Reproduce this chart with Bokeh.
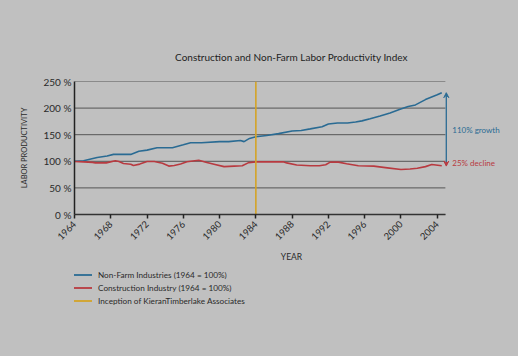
from bokeh.plotting import figure
from bokeh.layouts import column
from bokeh.models import Legend, LegendItem, Arrow, VeeHead, Label, PrintfTickFormatter, FixedTicker, Range1d
from bokeh.embed import file_html
from bokeh.resources import INLINE

nonfarm_years = [1964, 1965, 1966.5, 1967.6, 1968.3, 1970.2, 1971.1, 1972, 1973.1, 1974.8, 1976,
                 1976.8, 1978, 1980, 1981, 1982.3, 1982.7, 1983.3, 1984, 1985.2, 1986.5, 1988,
                 1989, 1990, 1991.3, 1992, 1993, 1994.1, 1995, 1995.7, 1996.6, 1997.7, 1998.8,
                 1999.9, 2000.8, 2001.6, 2002.7, 2004, 2004.5]
nonfarm_vals = [100, 101, 107, 110, 113, 113, 119, 121, 125.5, 125.5, 131,
                135, 135, 137, 137, 139, 137, 143, 146, 148.5, 152, 157,
                158, 161, 165, 170, 172, 172, 174, 176, 180, 185, 191,
                198, 203, 206, 216, 225, 229]

constr_years = [1964, 1965, 1966, 1966.3, 1967.5, 1968.5, 1968.9, 1969.4, 1970.2, 1970.5, 1971.2,
                1972, 1972.8, 1973.7, 1974.4, 1975, 1975.7, 1976.4, 1977.7, 1978.6, 1979.5,
                1980.5, 1981.6, 1982.5, 1983.2, 1984, 1985, 1986, 1987, 1987.4, 1988.5, 1990,
                1991, 1991.7, 1992.2, 1993.1, 1994, 1995.3, 1997, 1998.5, 2000, 2001, 2001.8,
                2002.7, 2003.4, 2004.5]
constr_vals = [99.5, 99, 98, 97, 97, 101, 99.5, 96, 94.5, 92, 94.7,
               99.5, 99.5, 96.4, 91, 92, 95, 99, 102, 97.6, 94,
               90, 91, 91.5, 97.5, 99, 99, 99, 99, 97, 93, 91.5,
               91.5, 93.5, 98.5, 98.5, 95.5, 91.5, 91, 87.7, 84.5, 85.5, 87,
               90, 94, 91.5]

inception_year = 1984
x_ticks = [1964, 1968, 1972, 1976, 1980, 1984, 1988, 1992, 1996, 2000, 2004]
y_ticks = [0, 50, 100, 150, 200, 250]
x_start, x_end = 1964, 2004.9
growth_text = "110% growth"
decline_text = "25% decline"
legend_labels = ["Non-Farm Industries (1964 = 100%)",
                 "Construction Industry (1964 = 100%)",
                 "Inception of KieranTimberlake Associates"]

BG = "#c0c0c0"
BLUE = "#2a6b93"
RED = "#b83a40"
YELLOW = "#d3a327"
TXT = "#2a2a2a"
FONT = "Lato"

p = figure(width=518, height=265, output_backend="svg", toolbar_location=None,
           x_range=Range1d(1964, 2011.86), y_range=Range1d(0, 250),
           min_border_left=74, min_border_right=10, min_border_top=81, min_border_bottom=50,
           styles={"background-color": BG})
p.background_fill_color = BG
p.border_fill_color = BG
p.outline_line_color = None

p.title.text = "Construction and Non-Farm Labor Productivity Index"
p.title.align = "center"
p.title.text_font = FONT
p.title.text_font_size = "10px"
p.title.text_font_style = "normal"
p.title.text_color = "#1e1e1e"
p.title.standoff = 38

# grid (drawn only across the data span)
p.xgrid.visible = False
p.ygrid.visible = False
p.segment(x0=[x_start] * len(y_ticks), x1=[x_end] * len(y_ticks), y0=y_ticks, y1=y_ticks,
          line_color="#555555", line_width=1)

# axes
p.yaxis.ticker = FixedTicker(ticks=y_ticks)
p.yaxis.formatter = PrintfTickFormatter(format="%d %%")
p.yaxis.major_tick_line_color = None
p.yaxis.major_tick_out = 0
p.yaxis.major_tick_in = 0
p.yaxis.minor_tick_line_color = None
p.yaxis.axis_line_color = "#222222"
p.yaxis.axis_line_width = 1.5
p.yaxis.major_label_text_font = FONT
p.yaxis.major_label_text_font_size = "10px"
p.yaxis.major_label_text_color = TXT
p.yaxis.major_label_standoff = 3
p.yaxis.axis_label = "LABOR PRODUCTIVITY"
p.yaxis.axis_label_text_font = FONT
p.yaxis.axis_label_text_font_size = "7.5px"
p.yaxis.axis_label_text_font_style = "normal"
p.yaxis.axis_label_text_color = TXT
p.yaxis.axis_label_standoff = 12

p.xaxis.ticker = FixedTicker(ticks=x_ticks)
p.xaxis.bounds = (x_start, x_end)
p.xaxis.major_label_orientation = 0.785
p.xaxis.minor_tick_line_color = None
p.xaxis.major_tick_in = 0
p.xaxis.major_tick_out = 4
p.xaxis.major_tick_line_color = "#222222"
p.xaxis.major_tick_line_width = 1.5
p.xaxis.axis_line_color = "#333333"
p.xaxis.axis_line_width = 1.5
p.xaxis.major_label_text_font = FONT
p.xaxis.major_label_text_font_size = "9.5px"
p.xaxis.major_label_text_color = TXT
p.xaxis.major_label_standoff = 4
p.xaxis.axis_label = "YEAR"
p.xaxis.axis_label_text_font = FONT
p.xaxis.axis_label_text_font_size = "8.5px"
p.xaxis.axis_label_text_font_style = "normal"
p.xaxis.axis_label_text_color = TXT
p.xaxis.axis_label_standoff = 6

p.line(nonfarm_years, nonfarm_vals, line_color=BLUE, line_width=1.6)
p.line(constr_years, constr_vals, line_color=RED, line_width=1.6)
p.line([inception_year, inception_year], [0, 250], line_color=YELLOW, line_width=1.6)

# arrows
p.add_layout(Arrow(x_start=2005.0, y_start=97, x_end=2005.0, y_end=229,
                   line_color=BLUE, line_width=1.3,
                   end=VeeHead(size=5, fill_color=BLUE, line_color=BLUE)))
p.add_layout(Arrow(x_start=2005.0, y_start=99, x_end=2005.0, y_end=91,
                   line_color=RED, line_width=1.3,
                   end=VeeHead(size=5, fill_color=RED, line_color=RED)))

p.add_layout(Label(x=2005.0, y=158, x_offset=6, text=growth_text, text_color=BLUE,
                   text_font=FONT, text_font_size="8px", text_baseline="middle"))
p.add_layout(Label(x=2005.0, y=97, x_offset=6, text=decline_text, text_color=RED,
                   text_font=FONT, text_font_size="8px", text_baseline="middle"))

# legend panel (its lines hold the same series, kept outside the visible range)
q = figure(width=518, height=91, output_backend="svg", toolbar_location=None,
           x_range=Range1d(0, 1), y_range=Range1d(-2, -1),
           x_axis_location=None, y_axis_location=None, min_border=0,
           styles={"background-color": BG})
q.background_fill_color = BG
q.border_fill_color = BG
q.outline_line_color = None
q.xgrid.visible = False
q.ygrid.visible = False
r1 = q.line(nonfarm_years, nonfarm_vals, line_color=BLUE, line_width=1.8)
r2 = q.line(constr_years, constr_vals, line_color=RED, line_width=1.8)
r3 = q.line([inception_year, inception_year], [0, 250], line_color=YELLOW, line_width=1.8)
items = [LegendItem(label=lab, renderers=[r]) for lab, r in zip(legend_labels, [r1, r2, r3])]

legend = Legend(items=items, location=(-1, 50))
legend.background_fill_alpha = 0
legend.border_line_color = None
legend.padding = 0
legend.margin = 0
legend.spacing = 2
legend.glyph_width = 19
legend.glyph_height = 11
legend.label_height = 11
legend.label_standoff = 6
legend.label_text_font = FONT
legend.label_text_font_size = "8.2px"
legend.label_text_color = TXT
legend.label_text_baseline = "middle"
q.add_layout(legend, "center")

layout = column(p, q, spacing=0, styles={"background-color": BG})
open("out.html", "w").write(file_html(layout, INLINE))
